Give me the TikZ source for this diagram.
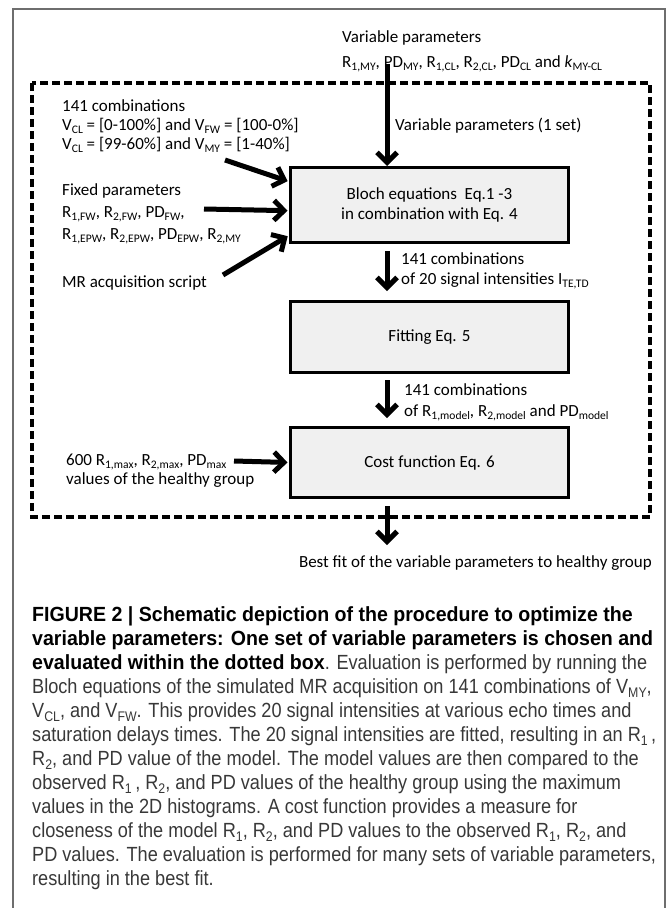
\documentclass[tikz,border=0pt]{standalone}
\usepackage{fontspec}
\usepackage{graphicx}
\setmainfont{Carlito}
\newfontfamily\capfont{Liberation Sans}[FakeStretch=0.885, BoldFeatures={FakeStretch=0.955}]
\usetikzlibrary{arrows.meta,calc}
\definecolor{boxgray}{HTML}{F0F0F0}
\definecolor{capgray}{HTML}{383838}
\definecolor{framegray}{HTML}{6E6E6E}
\newcommand\sbx[1]{\raisebox{-0.2em}{\scalebox{0.68}{#1}}}
\newcommand\capb[1]{{\bfseries\color{black}#1}}
\begin{document}
\begin{tikzpicture}[x=1pt,y=-1pt,
  lbl/.style={font=\fontsize{17}{20}\selectfont, inner sep=0pt, anchor=base west},
  procbox/.style={draw=black, line width=3pt, fill=boxgray, minimum width=278pt, anchor=north west, align=center, font=\fontsize{17}{20}\selectfont},
  arr/.style={line width=5pt, -{Straight Barb[length=10pt,width=20pt]}},
  captext/.style={font=\capfont\fontsize{20.5}{24}\selectfont, inner sep=0pt, anchor=base west, text=capgray}
]
\useasboundingbox (0,0) rectangle (666,908);
% outer frame
\draw[line width=1.2pt, framegray] (13,908) -- (13,9) -- (665,9) -- (665,908);
% dashed evaluation box
\draw[line width=3.5pt, dash pattern=on 8pt off 4pt] (32,83) rectangle (650,517);

% process boxes
\node[procbox, minimum height=75pt] (bloch) at (289,166) {Bloch equations\ \ Eq.1 -3\\in combination with Eq. 4};
\node[procbox, minimum height=71pt] (fit) at (289,300) {Fitting Eq. 5};
\node[procbox, minimum height=70pt] (cost) at (289,426) {Cost function Eq. 6};

% top labels
\node[lbl] (vp) at (342,42.5) {Variable parameters};
\node[lbl] (vplist) at (342,67.5) {R\sbx{1,MY}, PD\sbx{MY}, R\sbx{1,CL}, R\sbx{2,CL}, PD\sbx{CL} and \textit{k}\sbx{MY-CL}};
\node[lbl] (vpone) at (395,130.5) {Variable parameters (1 set)};

% left labels
\node[lbl] (comb) at (62,111.5) {141 combinations};
\node[lbl] (combA) at (62,130.5) {V\sbx{CL} = [0-100\%] and V\sbx{FW} = [100-0\%]};
\node[lbl] (combB) at (62,149) {V\sbx{CL} = [99-60\%] and V\sbx{MY} = [1-40\%]};
\node[lbl] (fixed) at (62,195.5) {Fixed parameters};
\node[lbl] (fixedA) at (62,217.5) {R\sbx{1,FW}, R\sbx{2,FW}, PD\sbx{FW},};
\node[lbl] (fixedB) at (62,239.5) {R\sbx{1,EPW}, R\sbx{2,EPW}, PD\sbx{EPW}, R\sbx{2,MY}};
\node[lbl] (script) at (62,287.5) {MR acquisition script};
\node[lbl] (hA) at (66,465.5) {600 R\sbx{1,max}, R\sbx{2,max}, PD\sbx{max}};
\node[lbl] (hB) at (66,484.5) {values of the healthy group};

% middle labels
\node[lbl] (sigA) at (401,264.5) {141 combinations};
\node[lbl] (sigB) at (401,284.5) {of 20 signal intensities I\sbx{TE,TD}};
\node[lbl] (modA) at (404,395.5) {141 combinations};
\node[lbl] (modB) at (404,416.5) {of R\sbx{1,model}, R\sbx{2,model} and PD\sbx{model}};

% result
\node[lbl, anchor=base east] (best) at (652,567.5) {Best fit of the variable parameters to healthy group};

% connectors
\coordinate (ax) at (387,0);
\coordinate (topstart) at (387,64);
\coordinate (endpt) at (387,545);
\draw[arr] (topstart) -- (ax |- bloch.north);
\draw[arr, shorten <=7pt, shorten >=9pt] (ax |- bloch.south) -- (ax |- fit.north);
\draw[arr, shorten <=6pt, shorten >=8pt] (ax |- fit.south) -- (ax |- cost.north);
\draw[arr, shorten <=7pt] (ax |- cost.south) -- (endpt);

\coordinate (a1s) at (225,160);
\coordinate (a2s) at (204,209);
\coordinate (a3s) at (223,275);
\coordinate (a4s) at (234,461);
\draw[arr, shorten >=1.5pt] (a1s) -- ($(bloch.north west)!0.2!(bloch.south west)$);
\draw[arr, shorten >=1.5pt] (a2s) -- ($(bloch.north west)!0.573!(bloch.south west)$);
\draw[arr, shorten >=1.5pt] (a3s) -- ($(bloch.north west)!0.89!(bloch.south west)$);
\draw[arr, shorten >=1.5pt] (a4s) -- ($(cost.north west)!0.5!(cost.south west)$);

% caption
\node[captext] (c1) at (32,621) {\capb{FIGURE 2 | Schematic depiction of the procedure to optimize the}};
\node[captext] (c2) at (32,645) {\capb{variable parameters: One set of variable parameters is chosen and}};
\node[captext] (c3) at (32,669) {\capb{evaluated within the dotted box}. Evaluation is performed by running the};
\node[captext] (c4) at (32,693) {Bloch equations of the simulated MR acquisition on 141 combinations of V\sbx{MY},};
\node[captext] (c5) at (32,717) {V\sbx{CL}, and V\sbx{FW}. This provides 20 signal intensities at various echo times and};
\node[captext] (c6) at (32,741) {saturation delays times. The 20 signal intensities are fitted, resulting in an R\sbx{1}\,,};
\node[captext] (c7) at (32,765) {R\sbx{2}, and PD value of the model. The model values are then compared to the};
\node[captext] (c8) at (32,789) {observed R\sbx{1}\,, R\sbx{2}, and PD values of the healthy group using the maximum};
\node[captext] (c9) at (32,813) {values in the 2D histograms. A cost function provides a measure for};
\node[captext] (c10) at (32,837) {closeness of the model R\sbx{1}, R\sbx{2}, and PD values to the observed R\sbx{1}, R\sbx{2}, and};
\node[captext] (c11) at (32,861) {PD values. The evaluation is performed for many sets of variable parameters,};
\node[captext] (c12) at (32,885) {resulting in the best fit.};
\end{tikzpicture}
\end{document}
